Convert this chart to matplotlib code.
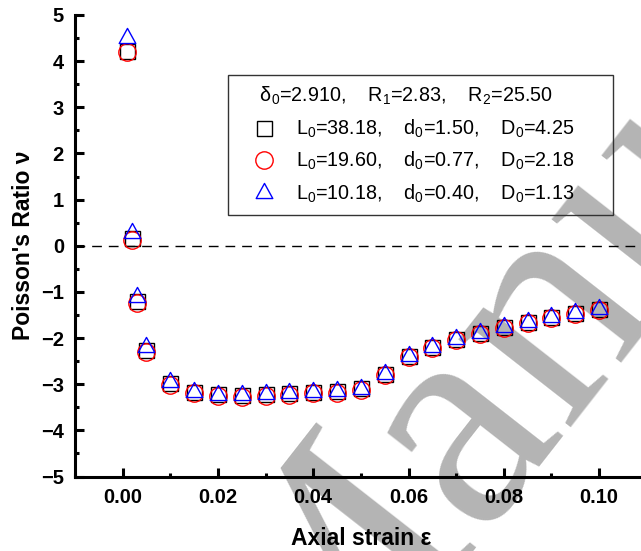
import numpy as np
import matplotlib
matplotlib.use('Agg')
import matplotlib.pyplot as plt
from matplotlib.path import Path
from matplotlib.ticker import MultipleLocator, FormatStrFormatter

plt.rcParams['font.family'] = ['Liberation Sans', 'DejaVu Sans']
plt.rcParams['mathtext.default'] = 'regular'

# axial strain and Poisson's ratio for the three specimen sizes
strain = [0.001, 0.002, 0.003, 0.005, 0.010, 0.015, 0.020, 0.025, 0.030, 0.035, 0.040, 0.045,
          0.050, 0.055, 0.060, 0.065, 0.070, 0.075, 0.080, 0.085, 0.090, 0.095, 0.100]
nu_L38 = [4.22, 0.16, -1.20, -2.26, -2.97, -3.16, -3.22, -3.23, -3.21, -3.19, -3.16, -3.14,
          -3.09, -2.77, -2.38, -2.19, -2.02, -1.88, -1.76, -1.65, -1.54, -1.45, -1.36]
nu_L19 = [4.20, 0.13, -1.23, -2.30, -3.01, -3.19, -3.26, -3.27, -3.25, -3.23, -3.20, -3.18,
          -3.12, -2.80, -2.41, -2.22, -2.05, -1.91, -1.79, -1.68, -1.57, -1.48, -1.39]
nu_L10 = [4.50, 0.28, -1.11, -2.20, -2.95, -3.16, -3.23, -3.24, -3.22, -3.20, -3.17, -3.15,
          -3.10, -2.78, -2.38, -2.20, -2.03, -1.89, -1.77, -1.66, -1.55, -1.46, -1.37]

title = '$\u03b4_0$=2.910,    $R_1$=2.83,    $R_2$=25.50'
labels = ['$L_0$=38.18,    $d_0$=1.50,    $D_0$=4.25',
          '$L_0$=19.60,    $d_0$=0.77,    $D_0$=2.18',
          '$L_0$=10.18,    $d_0$=0.40,    $D_0$=1.13']

# open triangle centred on its centroid
w, h = 1.1, 1.0
tri = Path([(0, 2*h/3), (-w/2, -h/3), (w/2, -h/3), (0, 2*h/3)],
           [Path.MOVETO, Path.LINETO, Path.LINETO, Path.CLOSEPOLY])

fig = plt.figure(figsize=(6.41, 5.51), dpi=100)
ax = fig.add_axes([0.117, 0.1352, 0.892, 0.8376])
ax.set_facecolor('none')

fig.text(0.482, -0.362, 'Manuscript', rotation=52, rotation_mode='anchor',
         ha='left', va='baseline', fontsize=223, color='#b4b4b4',
         family='Liberation Serif', zorder=-1)

ax.axhline(0, color='k', lw=1.0, dashes=(7, 5), zorder=1)

ax.plot(strain, nu_L38, ls='none', marker='s', ms=10.8, mfc='none', mec='k', mew=1.0,
        label=labels[0], zorder=2)
ax.plot(strain, nu_L19, ls='none', marker='o', ms=12.5, mfc='none', mec='red', mew=1.0,
        label=labels[1], zorder=3)
ax.plot(strain, nu_L10, ls='none', marker=tri, ms=14.5, mfc='none', mec='blue', mew=1.0,
        label=labels[2], zorder=4)

ax.set_xlim(-0.01, 0.11)
ax.set_ylim(-5, 5)
ax.xaxis.set_major_locator(MultipleLocator(0.02))
ax.xaxis.set_minor_locator(MultipleLocator(0.01))
ax.xaxis.set_major_formatter(FormatStrFormatter('%.2f'))
ax.yaxis.set_major_locator(MultipleLocator(1))
ax.yaxis.set_minor_locator(MultipleLocator(0.5))

for s in ('top', 'right'):
    ax.spines[s].set_visible(False)
for s in ('left', 'bottom'):
    ax.spines[s].set_linewidth(2.2)

ax.tick_params(which='both', direction='in', width=2.2, labelsize=14.5)
ax.tick_params(which='major', length=6.5, pad=8)
ax.tick_params(which='minor', length=3.2)
for lab in ax.get_xticklabels() + ax.get_yticklabels():
    lab.set_fontweight('bold')

ax.set_xlabel('Axial strain \u03b5', fontsize=16.5, fontweight='bold', labelpad=15)
ax.set_ylabel("Poisson's Ratio \u03bd", fontsize=16.5, fontweight='bold', labelpad=4)

leg = ax.legend(title='    ' + title, loc='upper left', mode='expand',
                bbox_to_anchor=(0.3557, 0.5, 0.6006, 0.3639), bbox_transform=fig.transFigure,
                borderaxespad=0, borderpad=0.5, handlelength=2.66, handletextpad=0.29,
                labelspacing=0.52, fontsize=14.2, title_fontsize=14.2, alignment='left',
                fancybox=False, framealpha=1, facecolor='none', edgecolor='#333333')
leg.get_frame().set_linewidth(1.0)

fig.savefig('out.png', dpi=100)
